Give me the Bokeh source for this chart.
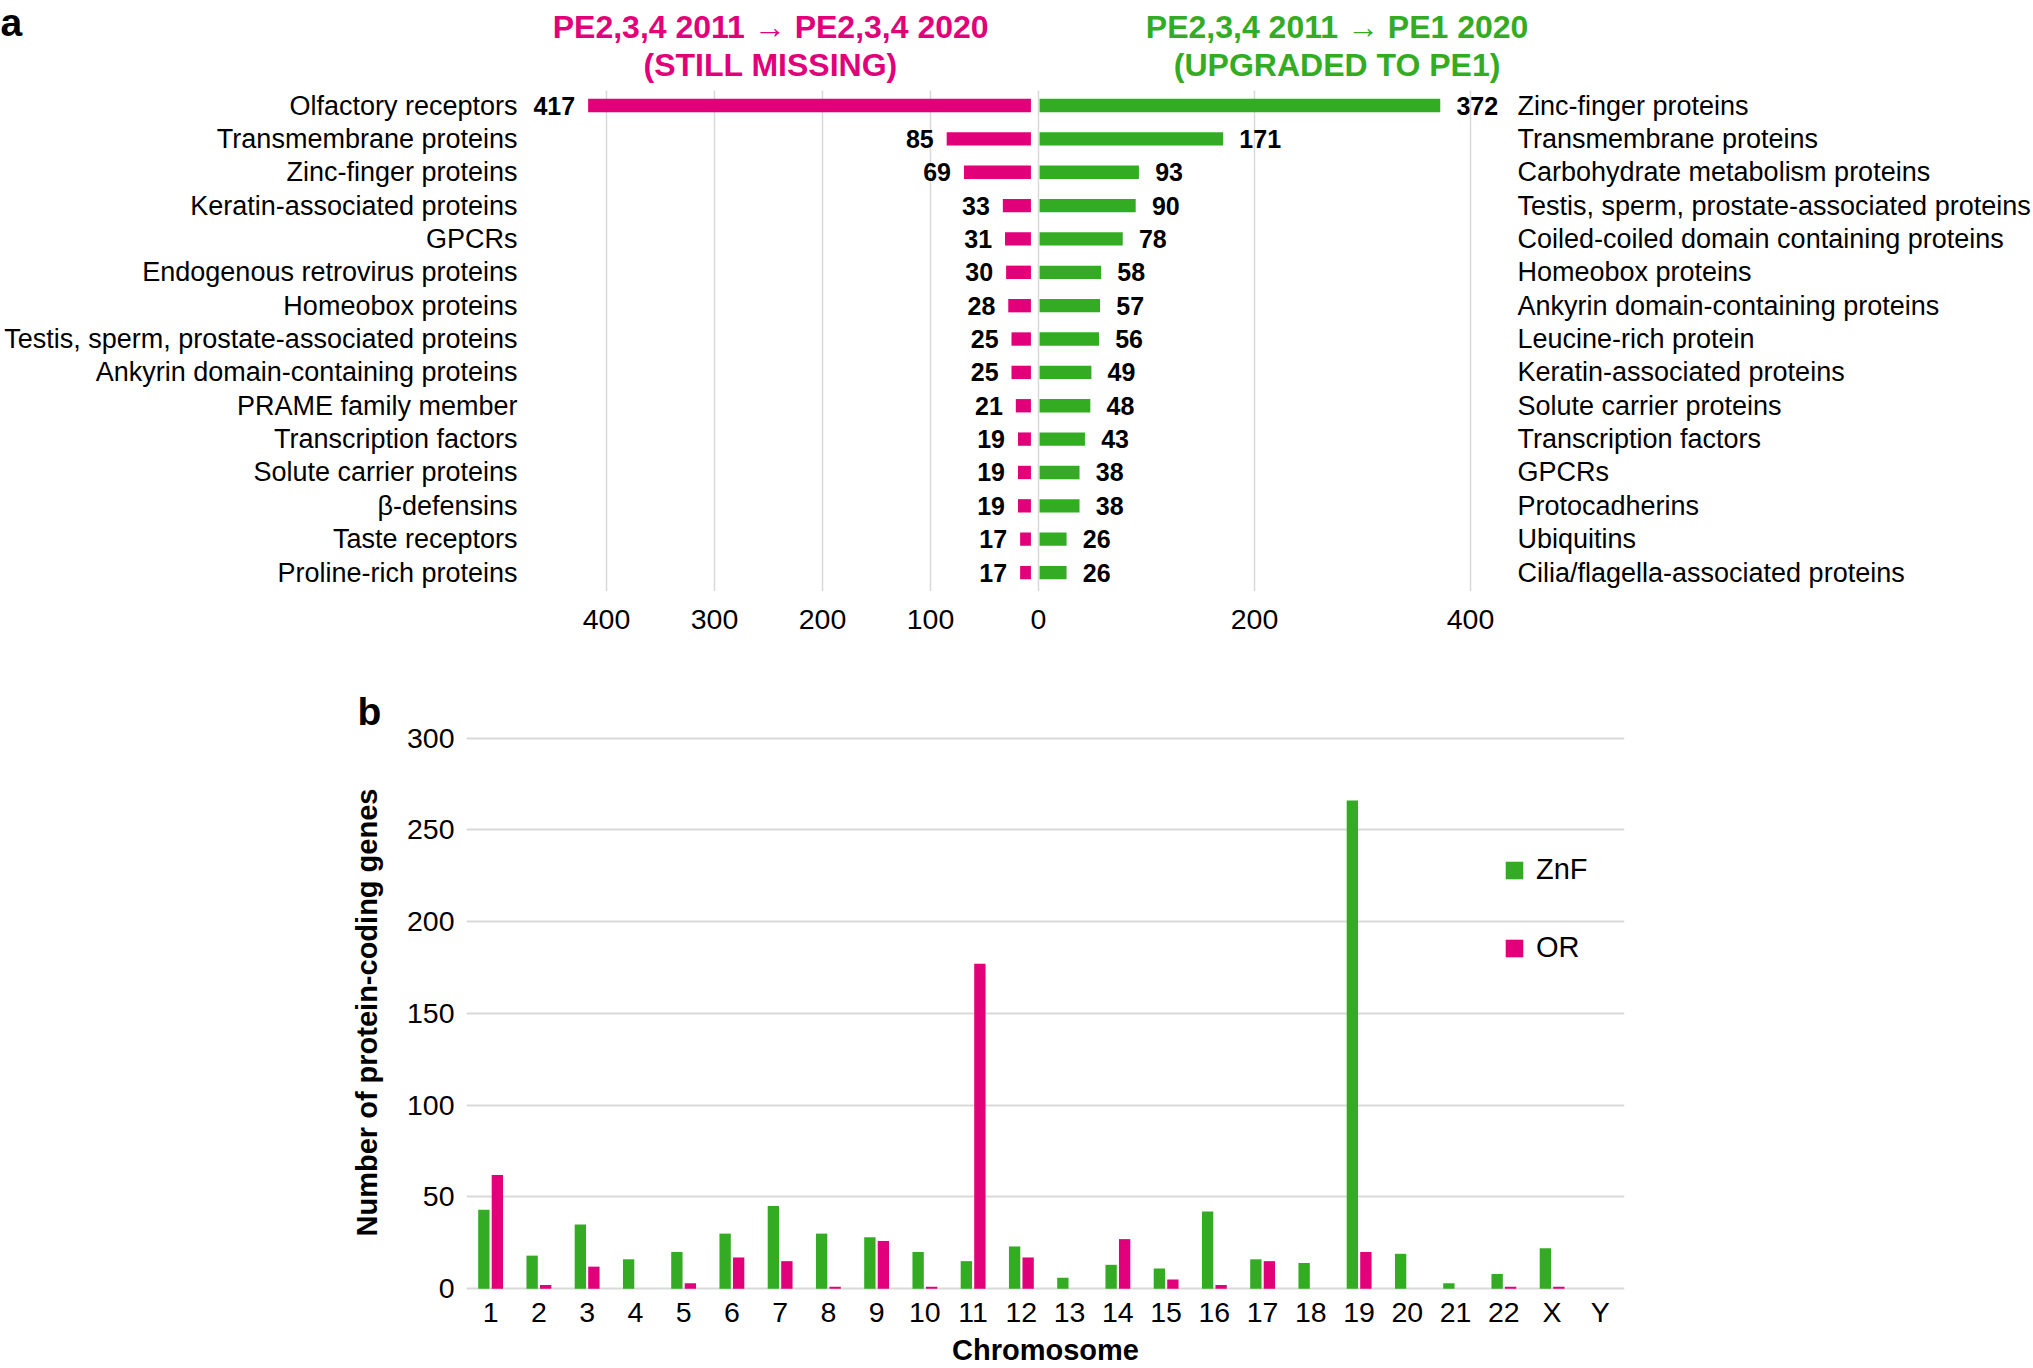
from bokeh.plotting import figure
from bokeh.models import (Range1d, FixedTicker, FactorRange, Legend, LegendItem,
                          ColumnDataSource, Title)
from bokeh.transform import dodge
from bokeh.core.properties import value
from bokeh.embed import file_html
from bokeh.resources import INLINE

# ---------------- data ----------------
missing_labels = ["Olfactory receptors", "Transmembrane proteins", "Zinc-finger proteins",
                  "Keratin-associated proteins", "GPCRs", "Endogenous retrovirus proteins",
                  "Homeobox proteins", "Testis, sperm, prostate-associated proteins",
                  "Ankyrin domain-containing proteins", "PRAME family member",
                  "Transcription factors", "Solute carrier proteins", "\u03b2-defensins",
                  "Taste receptors", "Proline-rich proteins"]
missing_values = [417, 85, 69, 33, 31, 30, 28, 25, 25, 21, 19, 19, 19, 17, 17]

upgraded_labels = ["Zinc-finger proteins", "Transmembrane proteins",
                   "Carbohydrate metabolism proteins",
                   "Testis, sperm, prostate-associated proteins",
                   "Coiled-coiled domain containing proteins", "Homeobox proteins",
                   "Ankyrin domain-containing proteins", "Leucine-rich protein",
                   "Keratin-associated proteins", "Solute carrier proteins",
                   "Transcription factors", "GPCRs", "Protocadherins", "Ubiquitins",
                   "Cilia/flagella-associated proteins"]
upgraded_values = [372, 171, 93, 90, 78, 58, 57, 56, 49, 48, 43, 38, 38, 26, 26]

top_ticks = [-400, -300, -200, -100, 0, 200, 400]

chromosomes = [str(i) for i in range(1, 23)] + ["X", "Y"]
znf_counts = [43, 18, 35, 16, 20, 30, 45, 30, 28, 20, 15, 23, 6, 13, 11, 42, 16, 14,
              266, 19, 3, 8, 22, 0]
or_counts = [62, 2, 12, 0, 3, 17, 15, 1, 26, 1, 177, 17, 0, 27, 5, 2, 15, 0,
             20, 0, 0, 1, 1, 0]
y_ticks = [0, 50, 100, 150, 200, 250, 300]

# ---------------- style ----------------
PINK = "#E2007A"
GREEN = "#33AC24"
GRID = "#D9D9D9"
FONT = "Liberation Sans"
TITLE_FONT = "Liberation Sans, DejaVu Sans"

# ---------------- top chart (a) ----------------
W = 2033
H1 = 670
Y_TOP = -3.1475          # row coordinate of the top edge of the frame
top = figure(width=W, height=H1, output_backend="svg", toolbar_location=None,
             x_range=Range1d(-961.1, 921.3), y_range=Range1d(14.568, Y_TOP),
             y_axis_location=None, min_border_left=0, min_border_right=0,
             min_border_top=0, min_border_bottom=H1 - 591)
top.outline_line_color = None
top.xgrid.visible = False
top.ygrid.visible = False

rows = list(range(len(missing_values)))
src_top = ColumnDataSource(dict(
    row=rows,
    miss_left=[-v for v in missing_values],
    miss_lab_x=[-v - 12 for v in missing_values],
    miss_txt=[str(v) for v in missing_values],
    up=upgraded_values,
    up_lab_x=[v + 15 for v in upgraded_values],
    up_txt=[str(v) for v in upgraded_values],
    lname=missing_labels,
    rname=upgraded_labels,
))

# gridlines at the tick positions, spanning the rows only
top.segment(x0=top_ticks, x1=top_ticks, y0=-0.45, y1=14.55, line_color=GRID,
            line_width=1.5)

top.hbar(y="row", left="miss_left", right=-7, height=0.4, source=src_top,
         fill_color=PINK, line_color=None)
top.hbar(y="row", left=1, right="up", height=0.4, source=src_top,
         fill_color=GREEN, line_color=None)

top.text(x="miss_lab_x", y="row", text="miss_txt", source=src_top,
         text_align="right", text_baseline="middle", text_font=value(FONT),
         text_font_style="bold", text_font_size="25px", text_color="black")
top.text(x="up_lab_x", y="row", text="up_txt", source=src_top,
         text_align="left", text_baseline="middle", text_font=value(FONT),
         text_font_style="bold", text_font_size="25px", text_color="black")

top.text(x=-482.4, y="row", text="lname", source=src_top, text_align="right",
         text_baseline="middle", text_font=value(FONT), text_font_size="27px",
         text_color="black")
top.text(x=443.5, y="row", text="rname", source=src_top, text_align="left",
         text_baseline="middle", text_font=value(FONT), text_font_size="27px",
         text_color="black")

top.text(x=[-248, -248], y=[-2.368, -1.229],
         text=["PE2,3,4 2011 \u2192 PE2,3,4 2020", "(STILL MISSING)"],
         text_align="center", text_baseline="middle", text_font=value(TITLE_FONT),
         text_font_style="bold", text_font_size="32px", text_color=PINK)
top.text(x=[276.5, 276.5], y=[-2.368, -1.229],
         text=["PE2,3,4 2011 \u2192 PE1 2020", "(UPGRADED TO PE1)"],
         text_align="center", text_baseline="middle", text_font=value(TITLE_FONT),
         text_font_style="bold", text_font_size="32px", text_color=GREEN)

top.text(x=[-961.1], y=[Y_TOP], text=["a"], text_align="left",
         text_baseline="top", text_font=value(FONT), text_font_style="bold",
         text_font_size="39px", text_color="black")

xa = top.xaxis[0]
xa.ticker = FixedTicker(ticks=top_ticks)
xa.major_label_overrides = {t: str(abs(t)) for t in top_ticks}
xa.major_label_text_font = FONT
xa.major_label_text_font_size = "28.5px"
xa.major_label_text_color = "black"
xa.major_label_standoff = 12
xa.axis_line_color = None
xa.major_tick_line_color = None
xa.minor_tick_line_color = None

# ---------------- bottom chart (b) ----------------
H2 = 1368 - H1
# value scale 1.84 px per gene; frame from y=-1 to y=302
bot = figure(width=W, height=H2, output_backend="svg", toolbar_location=None,
             x_range=FactorRange(*chromosomes), y_range=Range1d(-1, 302),
             min_border_left=466, min_border_right=W - 1624,
             min_border_top=64, min_border_bottom=H2 - 622)
bot.outline_line_color = None

src_bot = ColumnDataSource(dict(chrom=chromosomes, znf=znf_counts, orr=or_counts))
r_znf = bot.vbar(x=dodge("chrom", -0.14, range=bot.x_range), top="znf", width=0.235,
                 source=src_bot, fill_color=GREEN, line_color=None)
r_or = bot.vbar(x=dodge("chrom", 0.14, range=bot.x_range), top="orr", width=0.235,
                source=src_bot, fill_color=PINK, line_color=None)

bot.xgrid.visible = False
bot.ygrid.ticker = FixedTicker(ticks=y_ticks)
bot.ygrid.grid_line_color = GRID
bot.ygrid.grid_line_width = 2
bot.ygrid.level = "underlay"

ya = bot.yaxis[0]
ya.ticker = FixedTicker(ticks=y_ticks)
ya.axis_label = "Number of protein-coding genes"
ya.axis_label_text_font = FONT
ya.axis_label_text_font_style = "bold"
ya.axis_label_text_font_size = "29px"
ya.axis_label_text_color = "black"
ya.axis_label_standoff = 21
ya.major_label_text_font = FONT
ya.major_label_text_font_size = "28.5px"
ya.major_label_text_color = "black"
ya.major_label_standoff = 12
ya.major_tick_out = 0
ya.major_tick_in = 0
ya.minor_tick_out = 0
ya.minor_tick_in = 0
ya.axis_line_color = None
ya.major_tick_line_color = None
ya.minor_tick_line_color = None

xb = bot.xaxis[0]
xb.axis_label = "Chromosome"
xb.axis_label_text_font = FONT
xb.axis_label_text_font_style = "bold"
xb.axis_label_text_font_size = "29px"
xb.axis_label_text_color = "black"
xb.axis_label_standoff = 3
xb.major_label_text_font = FONT
xb.major_label_text_font_size = "28.5px"
xb.major_label_text_color = "black"
xb.major_label_standoff = 5
xb.major_tick_out = 0
xb.major_tick_in = 0
xb.minor_tick_out = 0
xb.minor_tick_in = 0
xb.axis_line_color = None
xb.major_tick_line_color = None
xb.minor_tick_line_color = None

bot.title = Title(text="b", align="left", offset=-109, standoff=3,
                  text_font=FONT, text_font_style="bold", text_font_size="39px",
                  text_color="black")

legend = Legend(items=[LegendItem(label="ZnF", renderers=[r_znf]),
                       LegendItem(label="OR", renderers=[r_or])],
                location=(1037, 326), orientation="vertical",
                glyph_width=22, glyph_height=22, label_standoff=11,
                label_height=30, spacing=45, padding=0, margin=0,
                border_line_color=None, background_fill_alpha=0,
                label_text_font=FONT, label_text_font_size="29px",
                label_text_color="black")
bot.add_layout(legend, "center")

open("out.html", "w").write(file_html([top, bot], INLINE))
